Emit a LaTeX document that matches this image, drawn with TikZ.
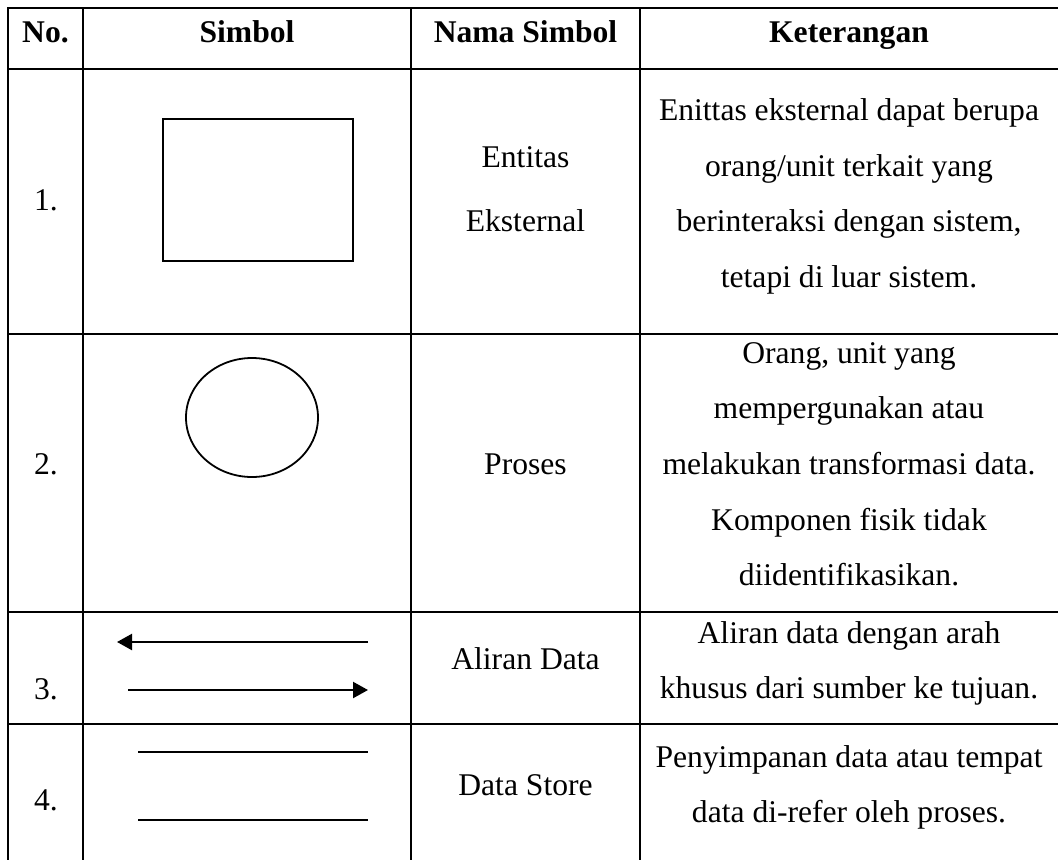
\documentclass[tikz,border=0pt]{standalone}
\usepackage{fontspec}
\setmainfont{Liberation Serif}
\usetikzlibrary{arrows.meta,shapes.geometric}
\begin{document}
\begin{tikzpicture}[x=1pt,y=-1pt,
  gridline/.style={line width=2pt},
  txt/.style={anchor=base, inner sep=0pt, font=\fontsize{31.6pt}{38pt}\selectfont},
  hdr/.style={anchor=base, inner sep=0pt, font=\fontsize{31.6pt}{38pt}\selectfont\bfseries},
  symline/.style={line width=2.2pt},
  flow/.style={symline, -{Triangle[length=15pt,width=16pt]}}]
\useasboundingbox (0,0) rectangle (1058,860);
\fill[white] (0,0) rectangle (1058,860);
% grid
\foreach \yy in {8,69,334,612,724}
  \draw[gridline] (7,\yy) -- (1058,\yy);
\foreach \xx in {8,83,411,640}
  \draw[gridline] (\xx,7) -- (\xx,860);
% header
\node[hdr] (h1) at (45.5,42) {No.};
\node[hdr] (h2) at (247,42) {Simbol};
\node[hdr] (h3) at (525.5,42) {Nama Simbol};
\node[hdr] (h4) at (849,42) {Keterangan};
% row 1
\node[txt] (n1) at (46,210) {1.};
\node[draw, symline, rectangle, minimum width=190pt, minimum height=142pt, inner sep=0pt] (ent) at (258,190) {};
\node[txt] (a1) at (525.5,167) {Entitas};
\node[txt] (b1) at (525.5,231) {Eksternal};
\node[txt] (k11) at (849,120) {Enittas eksternal dapat berupa};
\node[txt] (k12) at (849,176) {orang/unit terkait yang};
\node[txt] (k13) at (849,231) {berinteraksi dengan sistem,};
\node[txt] (k14) at (849,287) {tetapi di luar sistem.};
% row 2
\node[txt] (n2) at (46,474) {2.};
\node[draw, line width=1.8pt, ellipse, minimum width=132pt, minimum height=119pt, inner sep=0pt] (proc) at (252,417.5) {};
\node[txt] (a2) at (525.5,474) {Proses};
\node[txt] (k21) at (849,363) {Orang, unit yang};
\node[txt] (k22) at (849,418) {mempergunakan atau};
\node[txt] (k23) at (849,474) {melakukan transformasi data.};
\node[txt] (k24) at (849,530) {Komponen fisik tidak};
\node[txt] (k25) at (849,585) {diidentifikasikan.};
% row 3
\node[txt] (n3) at (46,699) {3.};
\coordinate (f1s) at (368,642);
\coordinate (f1e) at (117,642);
\coordinate (f2s) at (128,690);
\coordinate (f2e) at (368,690);
\draw[flow] (f1s) -- (f1e);
\draw[flow] (f2s) -- (f2e);
\node[txt] (a3) at (525.5,669) {Aliran Data};
\node[txt] (k31) at (849,643) {Aliran data dengan arah};
\node[txt] (k32) at (849,698) {khusus dari sumber ke tujuan.};
% row 4
\node[txt] (n4) at (46,810) {4.};
\coordinate (d1s) at (138,752);
\coordinate (d1e) at (368,752);
\coordinate (d2s) at (138,820);
\coordinate (d2e) at (368,820);
\draw[symline] (d1s) -- (d1e);
\draw[symline] (d2s) -- (d2e);
\node[txt] (a4) at (525.5,795) {Data Store};
\node[txt] (k41) at (849,767) {Penyimpanan data atau tempat};
\node[txt] (k42) at (849,822) {data di-refer oleh proses.};
\end{tikzpicture}
\end{document}
